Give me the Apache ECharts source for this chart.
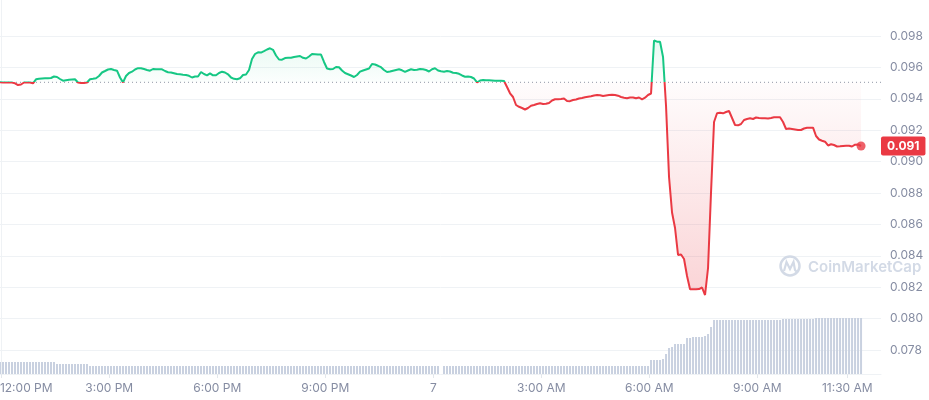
<!DOCTYPE html>
<html><head><meta charset="utf-8">
<script src="https://cdn.jsdelivr.net/npm/echarts@6/dist/echarts.min.js"></script>
<style>html,body{margin:0;padding:0;background:#fff}#c{width:929px;height:400px}</style>
</head><body><div id="c"></div>
<script>
// time: hours relative to 12:00 PM, one point every 5 minutes
const startHour = -0.035;
const stepMinutes = 5;
const openPrice = 0.09505;
const axisMinHour = -0.035, axisMaxHour = 24.436;
const priceMin = 0.076469, priceMax = 0.100293;
const volumeMax = 74.8;

const prices = [
0.095050,0.095040,0.095045,0.095035,0.095030,0.094987,0.094878,0.094910,0.095038,0.095045,
0.095040,0.094987,0.095242,0.095273,0.095293,0.095305,0.095312,0.095324,0.095420,0.095388,
0.095261,0.095152,0.095184,0.095210,0.095229,0.095242,0.095040,0.095006,0.095006,0.095035,
0.095242,0.095273,0.095312,0.095452,0.095675,0.095770,0.095866,0.095898,0.095834,0.095789,
0.095356,0.095045,0.095452,0.095643,0.095726,0.095866,0.095949,0.095949,0.095898,0.095834,
0.095789,0.095898,0.095879,0.095879,0.095879,0.095770,0.095694,0.095675,0.095630,0.095579,
0.095560,0.095535,0.095515,0.095465,0.095356,0.095420,0.095420,0.095707,0.095579,0.095496,
0.095624,0.095496,0.095496,0.095643,0.095726,0.095675,0.095560,0.095356,0.095273,0.095242,
0.095305,0.095515,0.095547,0.095834,0.096535,0.096853,0.096961,0.096942,0.097032,0.097140,
0.097216,0.097121,0.096758,0.096503,0.096490,0.096598,0.096611,0.096611,0.096662,0.096694,
0.096726,0.096611,0.096567,0.096694,0.096853,0.096840,0.096821,0.096821,0.096344,0.095930,
0.095885,0.095898,0.096025,0.096012,0.095802,0.095643,0.095566,0.095484,0.095388,0.095515,
0.095726,0.095802,0.095866,0.095930,0.096216,0.096184,0.096102,0.096012,0.095834,0.095707,
0.095738,0.095789,0.095834,0.095879,0.095815,0.095719,0.095802,0.095879,0.095834,0.095847,
0.095898,0.095879,0.095834,0.095738,0.095879,0.095942,0.095802,0.095751,0.095726,0.095770,
0.095738,0.095662,0.095643,0.095592,0.095484,0.095407,0.095420,0.095388,0.095293,0.095040,
0.095165,0.095197,0.095184,0.095178,0.095165,0.095152,0.095152,0.095152,0.095133,0.094751,
0.094350,0.094114,0.093604,0.093490,0.093413,0.093318,0.093413,0.093553,0.093604,0.093668,
0.093713,0.093668,0.093681,0.093732,0.093891,0.093968,0.093968,0.093987,0.094019,0.093859,
0.093847,0.093923,0.093955,0.094019,0.094050,0.094095,0.094133,0.094165,0.094210,0.094241,
0.094222,0.094178,0.094210,0.094241,0.094261,0.094241,0.094197,0.094114,0.094070,0.094031,
0.094082,0.094082,0.094038,0.094082,0.093968,0.094070,0.094241,0.094337,0.097713,0.097637,
0.097637,0.096662,0.093541,0.089018,0.086757,0.085769,0.084049,0.084081,0.083795,0.082712,
0.081865,0.081865,0.081870,0.081880,0.081979,0.081501,0.083221,0.088063,0.092522,0.093076,
0.093114,0.093076,0.093159,0.093222,0.092776,0.092330,0.092311,0.092394,0.092649,0.092713,
0.092757,0.092713,0.092808,0.092776,0.092757,0.092757,0.092745,0.092776,0.092821,0.092821,
0.092821,0.092522,0.092076,0.092108,0.092076,0.092044,0.092012,0.092012,0.092108,0.092159,
0.092159,0.092159,0.091630,0.091407,0.091330,0.091267,0.091025,0.091101,0.091056,0.090961,
0.090974,0.090993,0.091006,0.091012,0.090961,0.091076,0.091088,0.090993
];

// volume (millions, relative bar heights)
const volumes = [
2.4,2.4,2.4,2.4,2.4,2.4,2.4,2.4,2.4,2.4,
2.4,2.4,2.4,2.4,2.4,2.4,2.4,2.4,2.4,2.0,
2.0,2.0,2.0,2.0,2.0,2.0,2.0,2.0,2.0,2.0,
1.6,1.6,1.6,1.6,1.6,1.6,1.6,1.6,1.6,1.6,
1.6,1.6,1.6,1.6,1.6,1.6,1.6,1.6,1.6,1.6,
1.6,1.6,1.6,1.6,1.6,1.6,1.6,1.6,1.6,1.6,
1.6,1.6,1.6,1.6,1.6,1.6,1.6,1.6,1.6,1.6,
1.6,1.6,1.6,1.6,1.6,1.6,1.6,1.6,1.6,1.6,
1.6,1.6,1.6,1.6,1.6,1.6,1.6,1.6,1.6,1.6,
1.6,1.6,1.6,1.6,1.6,1.6,1.6,1.6,1.6,1.6,
1.6,1.6,1.6,1.6,1.6,1.6,1.6,1.6,1.6,1.6,
1.6,1.6,1.6,1.6,1.6,1.6,1.6,1.6,1.6,1.6,
1.6,1.6,1.6,1.6,1.6,1.6,1.6,1.6,1.6,1.6,
1.6,1.6,1.6,1.6,1.6,1.6,1.6,1.6,1.6,1.6,
1.6,1.6,1.6,1.6,1.6,1.6,1.6,0,1.6,1.6,
1.6,1.6,1.6,1.6,1.6,1.6,1.6,1.6,1.6,1.6,
1.6,1.6,1.6,1.6,1.6,1.6,1.6,1.6,1.6,1.6,
1.6,1.6,1.6,1.6,1.6,1.6,1.6,1.6,1.6,1.6,
1.6,1.6,1.6,1.6,1.6,1.6,1.6,1.6,1.6,1.6,
1.6,1.6,1.6,1.6,1.6,1.6,1.6,1.6,1.6,1.6,
1.6,1.6,1.6,1.6,1.6,1.6,1.6,1.6,1.6,1.6,
1.6,1.6,1.6,1.6,1.6,1.6,1.6,2.8,2.8,2.8,
2.8,3.0,4.0,5.2,5.4,6.0,6.0,6.0,6.0,7.2,
7.2,7.4,7.4,7.4,7.4,7.6,8.0,9.4,10.8,10.8,
10.8,10.8,10.8,10.8,10.8,10.8,10.8,10.8,10.8,10.8,
10.8,10.8,10.8,10.8,10.8,10.8,10.8,10.8,10.8,10.8,
10.8,11.0,11.0,11.0,11.0,11.0,11.0,11.0,11.0,11.0,
11.0,11.0,11.2,11.2,11.2,11.2,11.2,11.2,11.2,11.2,
11.2,11.2,11.2,11.2,11.2,11.2,11.2,11.2
];

const tickHours = [0, 3, 6, 9, 12, 15, 18, 21, 23.5];
const tickLabels = ['12:00 PM','3:00 PM','6:00 PM','9:00 PM','7','3:00 AM','6:00 AM','9:00 AM','11:30 AM'];
const priceTicks = [0.078,0.080,0.082,0.084,0.086,0.088,0.090,0.092,0.094,0.096,0.098];

const GREEN = '#16c784', RED = '#ea3943', TXT = '#858ca2', GRID = '#eff2f5', FONT = 'Inter';
const MARK = '#d3dae6';

const hours = prices.map((_, i) => startHour + i * stepMinutes / 60);
const priceData = prices.map((p, i) => [hours[i], p]);
const volData = volumes.map((v, i) => [hours[i], v]);
const last = priceData[priceData.length - 1];

function labelFor(v) {
  for (let k = 0; k < tickHours.length; k++) {
    if (Math.abs(tickHours[k] - v) < 1e-6) return k === 0 ? '{first|' + tickLabels[k] + '}' : tickLabels[k];
  }
  return '';
}

const chart = echarts.init(document.getElementById('c'), null, { renderer: 'canvas' });
const option = {
  animation: false,
  backgroundColor: '#ffffff',
  grid: { left: 0, right: 48, top: 0, bottom: 26, containLabel: false, outerBoundsMode: 'none' },
  xAxis: {
    type: 'value', min: axisMinHour, max: axisMaxHour,
    axisLine: { show: true, lineStyle: { color: GRID, width: 1 } },
    axisTick: { show: true, customValues: tickHours, length: 4, lineStyle: { color: '#e3e7ec' } },
    splitLine: { show: false },
    axisLabel: {
      customValues: tickHours, formatter: labelFor, margin: 8, hideOverlap: false,
      color: TXT, fontSize: 12, fontFamily: FONT,
      rich: { first: { padding: [0, 0, 0, 50], color: TXT, fontSize: 12, fontFamily: FONT } }
    }
  },
  yAxis: [{
    type: 'value', position: 'right', min: priceMin, max: priceMax,
    axisLine: { show: true, lineStyle: { color: GRID } },
    axisTick: { show: false, customValues: priceTicks },
    splitLine: { show: true, lineStyle: { color: GRID, width: 1 } },
    axisLabel: { customValues: priceTicks, formatter: v => v.toFixed(3), margin: 9, color: TXT, fontSize: 12, fontFamily: FONT }
  }, {
    type: 'value', min: 0, max: volumeMax, show: false, splitLine: { show: false }
  }],
  visualMap: {
    show: false, type: 'piecewise', seriesIndex: 0, dimension: 1,
    pieces: [{ gte: 0, lte: openPrice, color: RED }, { gt: openPrice, lte: 1, color: GREEN }]
  },
  series: [{
    type: 'line', data: priceData, xAxisIndex: 0, yAxisIndex: 0,
    showSymbol: false, symbol: 'none', z: 3,
    lineStyle: { width: 2 },
    areaStyle: { origin: openPrice, color: 'rgba(0,0,0,0)' }
  }, {
    type: 'bar', data: volData, xAxisIndex: 0, yAxisIndex: 1, barWidth: 2, z: 1,
    itemStyle: { color: '#c9d1e0' }
  }, {
    type: 'scatter', data: [last], xAxisIndex: 0, yAxisIndex: 0, symbolSize: 9, z: 5,
    itemStyle: { color: RED }
  }, {
    type: 'line', data: [[axisMinHour, openPrice], [axisMaxHour, openPrice]], xAxisIndex: 0, yAxisIndex: 0,
    symbol: 'none', silent: true, z: 2,
    lineStyle: { type: [1, 3], color: '#8f96a6', width: 1 }
  }]
};
chart.setOption(option);

const yTop = chart.convertToPixel({ yAxisIndex: 0 }, priceMax);
const yBot = chart.convertToPixel({ yAxisIndex: 0 }, priceMin);
const yBase = chart.convertToPixel({ yAxisIndex: 0 }, openPrice);
const tagPos = chart.convertToPixel({ xAxisIndex: 0, yAxisIndex: 0 }, [axisMaxHour, last[1]]);
const b = (yBase - yTop) / (yBot - yTop);
chart.setOption({
  series: [{
    areaStyle: {
      origin: openPrice,
      color: new echarts.graphic.LinearGradient(0, yTop, 0, yBot, [
        { offset: 0, color: 'rgba(22,199,132,0.28)' },
        { offset: b, color: 'rgba(22,199,132,0.02)' },
        { offset: b, color: 'rgba(234,57,67,0.02)' },
        { offset: 1, color: 'rgba(234,57,67,0.42)' }
      ], true)
    }
  }],
  graphic: [
    { type: 'circle', shape: { cx: 790, cy: 266, r: 9.5 }, style: { fill: 'none', stroke: MARK, lineWidth: 2.5 }, z: 0 },
    { type: 'polyline', shape: { points: [[784, 271], [786.5, 262], [790, 269], [793.5, 262], [795, 270], [797, 272]] }, style: { fill: 'none', stroke: MARK, lineWidth: 2.2 }, z: 0 },
    { type: 'text', x: 808, y: 267, style: { text: 'CoinMarketCap', fill: MARK, font: '600 15px Inter', textAlign: 'left', textVerticalAlign: 'middle' }, z: 0 },
    { type: 'text', x: tagPos[0], y: tagPos[1], z: 10,
      style: { text: last[1].toFixed(3), fill: '#ffffff', font: 'bold 12px Inter', textAlign: 'left', textVerticalAlign: 'middle',
        backgroundColor: RED, padding: [4, 6, 3, 6], borderRadius: 2 } }
  ]
});
</script></body></html>
